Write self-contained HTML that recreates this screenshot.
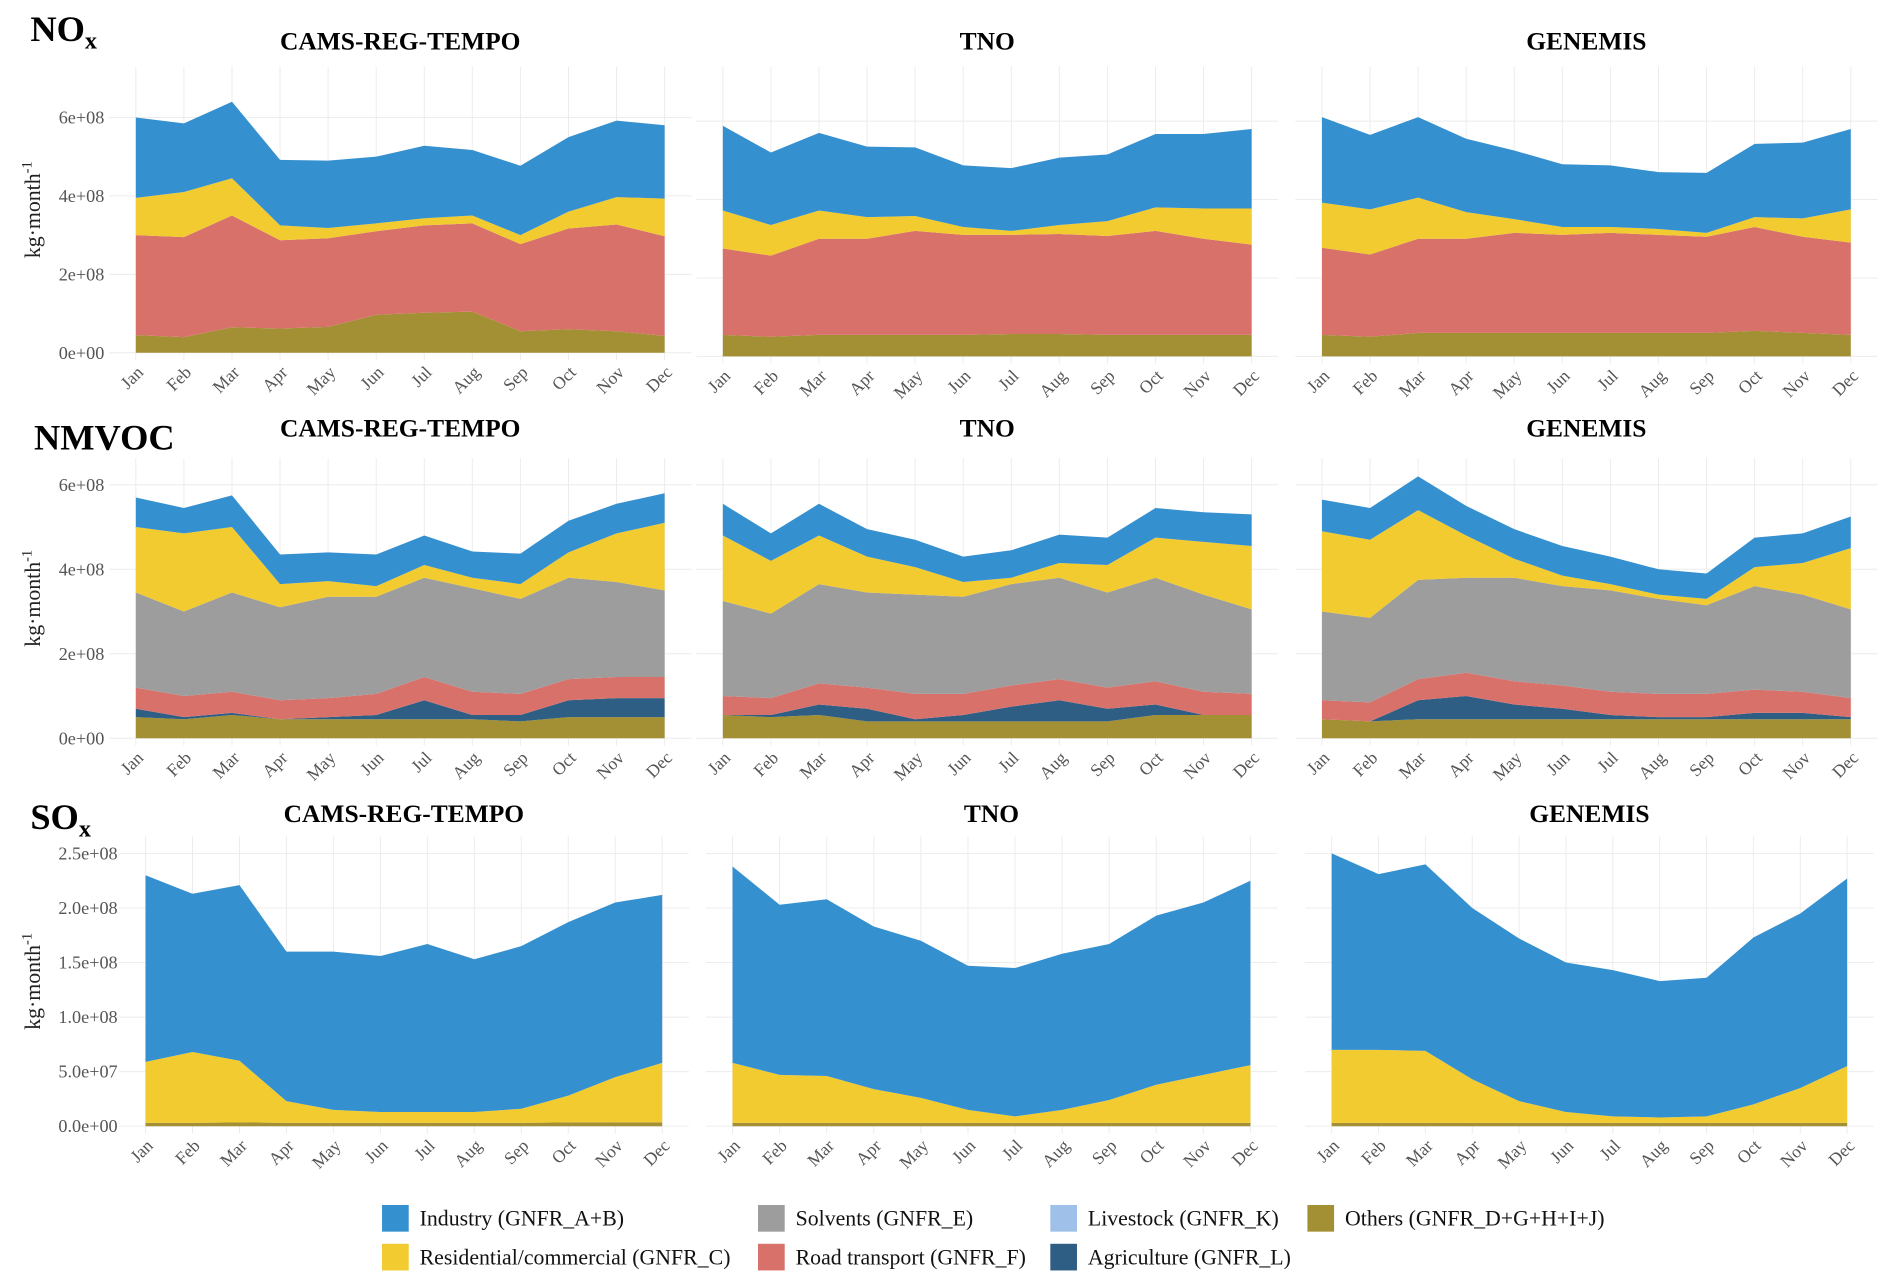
<!DOCTYPE html>
<html><head><meta charset="utf-8"><style>
html,body{margin:0;padding:0;background:#fff;}
svg{display:block;font-family:"Liberation Serif",serif;}
</style></head><body>
<svg id="chart" width="1892" height="1285" viewBox="0 0 1560 1060" preserveAspectRatio="none" xmlns="http://www.w3.org/2000/svg"></svg>
<script>
// Data (units: NOx/NMVOC 1e8 kg/month, SOx 1e7 kg/month) - cumulative stacked tops, bottom to top
const months = ["Jan","Feb","Mar","Apr","May","Jun","Jul","Aug","Sep","Oct","Nov","Dec"];
const noxTicks = ["0e+00","2e+08","4e+08","6e+08"];
const nmvocTicks = ["0e+00","2e+08","4e+08","6e+08"];
const soxTicks = ["0.0e+00","5.0e+07","1.0e+08","1.5e+08","2.0e+08","2.5e+08"];

const noxCamsOthers = [0.45,0.4,0.65,0.62,0.66,0.97,1.02,1.05,0.55,0.6,0.55,0.43];
const noxCamsRoad = [3.0,2.95,3.5,2.87,2.92,3.1,3.25,3.3,2.77,3.17,3.27,2.97];
const noxCamsResi = [3.95,4.1,4.45,3.25,3.18,3.3,3.43,3.5,3.0,3.6,3.97,3.93];
const noxCamsInd = [6.0,5.85,6.4,4.92,4.9,5.0,5.28,5.17,4.77,5.5,5.92,5.8];
const noxTnoOthers = [0.55,0.5,0.55,0.55,0.55,0.55,0.57,0.57,0.55,0.55,0.55,0.55];
const noxTnoRoad = [2.75,2.57,3.0,3.0,3.2,3.1,3.1,3.12,3.07,3.2,3.0,2.85];
const noxTnoResi = [3.72,3.35,3.72,3.55,3.58,3.3,3.2,3.35,3.45,3.8,3.77,3.77];
const noxTnoInd = [5.88,5.2,5.7,5.35,5.33,4.87,4.8,5.07,5.15,5.67,5.67,5.8];
const noxGenOthers = [0.55,0.5,0.6,0.6,0.6,0.6,0.6,0.6,0.6,0.65,0.6,0.55];
const noxGenRoad = [2.77,2.6,3.0,3.0,3.15,3.1,3.15,3.1,3.05,3.3,3.05,2.9];
const noxGenResi = [3.92,3.75,4.05,3.68,3.5,3.3,3.3,3.25,3.15,3.55,3.52,3.75];
const noxGenInd = [6.1,5.65,6.1,5.55,5.25,4.9,4.87,4.7,4.68,5.42,5.45,5.8];

const vocCamsOthers = [0.5,0.45,0.55,0.45,0.45,0.45,0.45,0.45,0.4,0.5,0.5,0.5];
const vocCamsAgri = [0.7,0.5,0.6,0.45,0.5,0.55,0.9,0.55,0.55,0.9,0.95,0.95];
const vocCamsRoad = [1.2,1.0,1.1,0.9,0.95,1.05,1.45,1.1,1.05,1.4,1.45,1.45];
const vocCamsSolv = [3.45,3.0,3.45,3.1,3.35,3.35,3.8,3.55,3.3,3.8,3.7,3.5];
const vocCamsResi = [5.0,4.85,5.0,3.65,3.72,3.6,4.1,3.8,3.65,4.4,4.85,5.1];
const vocCamsInd = [5.7,5.45,5.75,4.35,4.4,4.35,4.8,4.42,4.37,5.15,5.55,5.8];
const vocTnoOthers = [0.55,0.5,0.55,0.4,0.4,0.4,0.4,0.4,0.4,0.55,0.55,0.55];
const vocTnoAgri = [0.55,0.55,0.8,0.7,0.45,0.55,0.75,0.9,0.7,0.8,0.55,0.55];
const vocTnoRoad = [1.0,0.95,1.3,1.2,1.05,1.05,1.25,1.4,1.2,1.35,1.1,1.05];
const vocTnoSolv = [3.25,2.95,3.65,3.45,3.4,3.35,3.65,3.8,3.45,3.8,3.4,3.05];
const vocTnoResi = [4.8,4.2,4.8,4.3,4.05,3.7,3.8,4.15,4.1,4.75,4.65,4.55];
const vocTnoInd = [5.55,4.85,5.55,4.95,4.7,4.3,4.45,4.82,4.75,5.45,5.35,5.3];
const vocGenOthers = [0.45,0.4,0.45,0.45,0.45,0.45,0.45,0.45,0.45,0.45,0.45,0.45];
const vocGenAgri = [0.45,0.4,0.9,1.0,0.8,0.7,0.55,0.5,0.5,0.6,0.6,0.5];
const vocGenRoad = [0.9,0.85,1.4,1.55,1.35,1.25,1.1,1.05,1.05,1.15,1.1,0.95];
const vocGenSolv = [3.0,2.85,3.75,3.8,3.8,3.6,3.5,3.3,3.15,3.6,3.4,3.05];
const vocGenResi = [4.9,4.7,5.4,4.8,4.25,3.85,3.65,3.4,3.3,4.05,4.15,4.5];
const vocGenInd = [5.65,5.45,6.2,5.5,4.95,4.55,4.3,4.0,3.9,4.75,4.85,5.25];

const soxCamsOthers = [0.3,0.3,0.35,0.3,0.3,0.3,0.3,0.3,0.3,0.35,0.35,0.35];
const soxCamsResi = [5.9,6.8,6.0,2.3,1.5,1.3,1.3,1.3,1.6,2.8,4.5,5.8];
const soxCamsInd = [23.0,21.3,22.1,16.0,16.0,15.6,16.7,15.3,16.5,18.7,20.5,21.2];
const soxTnoOthers = [0.3,0.3,0.3,0.3,0.3,0.3,0.3,0.3,0.3,0.3,0.3,0.3];
const soxTnoResi = [5.8,4.7,4.6,3.4,2.6,1.5,0.9,1.5,2.4,3.8,4.7,5.6];
const soxTnoInd = [23.8,20.3,20.8,18.3,17.0,14.7,14.5,15.8,16.7,19.3,20.5,22.5];
const soxGenOthers = [0.3,0.3,0.3,0.3,0.3,0.3,0.3,0.3,0.3,0.3,0.3,0.3];
const soxGenResi = [7.0,7.0,6.9,4.3,2.3,1.3,0.9,0.8,0.9,2.0,3.5,5.5];
const soxGenInd = [25.0,23.1,24.0,20.0,17.2,15.0,14.3,13.3,13.6,17.3,19.5,22.7];

const C = {ind:"#3590cf",resi:"#f2cb30",solv:"#9d9d9d",road:"#d9716b",agri:"#2f5e85",others:"#a39034",live:"#9fc1e9"};
const svg = document.getElementById('chart');
const NS = "http://www.w3.org/2000/svg";
function mk(tag, attrs, parent){const e=document.createElementNS(NS,tag);for(const k in attrs)e.setAttribute(k,attrs[k]);(parent||svg).appendChild(e);return e;}

const rows = [
 {key:"nox", zeros:[291,294,294], px:32.35, tickStep:2, ticks:noxTicks, gridTop:55, tickX:86, titleY:41, label:"NOx", labelY:34,
  panels:[{name:"CAMS-REG-TEMPO",x0:112,x1:548,layers:[["others",noxCamsOthers],["road",noxCamsRoad],["resi",noxCamsResi],["ind",noxCamsInd]]},
          {name:"TNO",x0:596,x1:1032,layers:[["others",noxTnoOthers],["road",noxTnoRoad],["resi",noxTnoResi],["ind",noxTnoInd]]},
          {name:"GENEMIS",x0:1090,x1:1526,layers:[["others",noxGenOthers],["road",noxGenRoad],["resi",noxGenResi],["ind",noxGenInd]]}]},
 {key:"nmvoc", zeros:[609,609,609], px:34.85, tickStep:2, ticks:nmvocTicks, gridTop:378, tickX:86, titleY:360, label:"NMVOC", labelY:371,
  panels:[{name:"CAMS-REG-TEMPO",x0:112,x1:548,layers:[["others",vocCamsOthers],["agri",vocCamsAgri],["road",vocCamsRoad],["solv",vocCamsSolv],["resi",vocCamsResi],["ind",vocCamsInd]]},
          {name:"TNO",x0:596,x1:1032,layers:[["others",vocTnoOthers],["agri",vocTnoAgri],["road",vocTnoRoad],["solv",vocTnoSolv],["resi",vocTnoResi],["ind",vocTnoInd]]},
          {name:"GENEMIS",x0:1090,x1:1526,layers:[["others",vocGenOthers],["agri",vocGenAgri],["road",vocGenRoad],["solv",vocGenSolv],["resi",vocGenResi],["ind",vocGenInd]]}]},
 {key:"sox", zeros:[929,929,929], px:9.0, tickStep:5, ticks:soxTicks, gridTop:690, tickX:97, titleY:678, label:"SOx", labelY:684,
  panels:[{name:"CAMS-REG-TEMPO",x0:120,x1:546,layers:[["others",soxCamsOthers],["resi",soxCamsResi],["ind",soxCamsInd]]},
          {name:"TNO",x0:604,x1:1031,layers:[["others",soxTnoOthers],["resi",soxTnoResi],["ind",soxTnoInd]]},
          {name:"GENEMIS",x0:1098,x1:1523,layers:[["others",soxGenOthers],["resi",soxGenResi],["ind",soxGenInd]]}]}
];

rows.forEach(row=>{
  // row label
  const lbl = mk('text',{x:row.key==="nmvoc"?28:25,y:row.labelY,'font-size':30,'font-weight':'bold',fill:'#000'});
  
  
  if(row.key==="nmvoc"){lbl.textContent="NMVOC";}
  else{lbl.textContent=row.key==="nox"?"NO":"SO";const sub=mk('tspan',{'font-size':20,dy:6},lbl);sub.textContent="x";}
  // y axis title
  const midY=(row.gridTop+row.zeros[0])/2;
  const yt = mk('text',{x:0,y:0,transform:`translate(33,${midY}) rotate(-90)`,'text-anchor':'middle','font-size':18,fill:'#222'});
  
  
  yt.textContent="kg·month";
  const sup=mk('tspan',{'font-size':12,dy:-7},yt);sup.textContent="-1";

  row.panels.forEach((p,pi)=>{
    const zero=row.zeros[pi];
    const yS = v => zero - v*row.px;
    const g = mk('g',{});
    
    
    const xS = i => p.x0 + i*(p.x1-p.x0)/(months.length-1);
    months.forEach((m,i)=>{mk('line',{x1:xS(i),x2:xS(i),y1:row.gridTop,y2:zero+6,stroke:'#ececec','stroke-width':0.8},g);});
    row.ticks.forEach((t,ti)=>{
      const y=yS(ti*row.tickStep);
      mk('line',{x1:p.x0-22,x2:p.x1+22,y1:y,y2:y,stroke:'#ececec','stroke-width':0.8},g);
      if(pi===0){const tl=mk('text',{x:row.tickX,y:y+5,'text-anchor':'end','font-size':15,fill:'#555'},g);
        
        
        tl.textContent=t;}
    });
    let prev = months.map(()=>0);
    p.layers.forEach(([k,arr])=>{
      let d="M"+arr.map((v,i)=>xS(i)+","+yS(v)).join(" L");
      for(let i=months.length-1;i>=0;i--) d+=" L"+xS(i)+","+yS(prev[i]);
      d+=" Z";
      const a=mk('path',{d:d,fill:C[k]},g);
      
      
      prev=arr;
    });
    months.forEach((m,i)=>{
      const tx=mk('text',{x:0,y:0,transform:`translate(${xS(i)+7},${zero+17}) rotate(-45)`,'text-anchor':'end','font-size':14.5,fill:'#555'},g);
      
      
      tx.textContent=m;
    });
    const tt=mk('text',{x:(p.x0+p.x1)/2,y:row.titleY,'text-anchor':'middle','font-size':21,'font-weight':'bold',fill:'#000'},g);
    
    
    tt.textContent=p.name;
  });
});

const legend=[["ind","Industry (GNFR_A+B)",315,1005],["solv","Solvents (GNFR_E)",625,1005],["live","Livestock (GNFR_K)",866,1005],["others","Others (GNFR_D+G+H+I+J)",1078,1005],
 ["resi","Residential/commercial (GNFR_C)",315,1037],["road","Road transport (GNFR_F)",625,1037],["agri","Agriculture (GNFR_L)",866,1037]];
const lg=mk('g',{});


legend.forEach(([k,t,x,y])=>{
  const e=mk('g',{},lg);
  
  
  mk('rect',{x:x,y:y-11,width:22,height:22,fill:C[k]},e);
  const tx=mk('text',{x:x+31,y:y+6,'font-size':18,fill:'#111'},e);
  tx.textContent=t;
});
</script>
</body></html>
